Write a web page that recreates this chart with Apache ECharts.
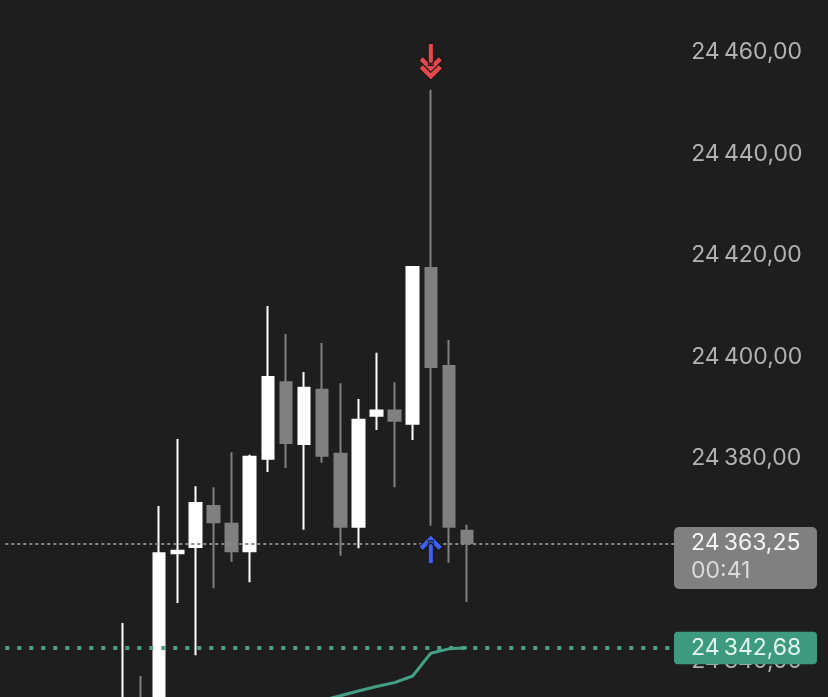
<!DOCTYPE html>
<html>
<head>
<meta charset="utf-8">
<script src="https://cdn.jsdelivr.net/npm/echarts@6/dist/echarts.min.js"></script>
<style>
html,body{margin:0;padding:0;background:#1e1e1e;}
#chart{width:828px;height:697px;}
</style>
</head>
<body>
<div id="chart"></div>
<script>
// ---- data ----
const categories = ['09:54','09:55','09:56','09:57','09:58','09:59',
  '10:00','10:01','10:02','10:03','10:04','10:05','10:06','10:07','10:08','10:09',
  '10:10','10:11','10:12','10:13','10:14','10:15','10:16','10:17','10:18','10:19',
  '10:20','10:21','10:22','10:23','10:24','10:25','10:26','10:27','10:28','10:29','10:30'];
const firstCandle = 6;
const opens  = [24322.0,24330.5,24326.0,24361.3,24362.5,24370.6,24367.1,24361.7,24379.9,24395.0,
                24382.8,24393.5,24380.9,24366.5,24388.4,24389.4,24386.8,24417.5,24398.2,24365.7];
const closes = [24330.5,24326.0,24361.3,24361.8,24371.2,24367.4,24361.7,24380.3,24396.0,24383.0,
                24393.9,24380.5,24366.5,24387.6,24389.4,24387.4,24417.7,24398.0,24366.5,24363.25];
const lows   = [24318.0,24321.0,24324.0,24351.5,24341.2,24354.4,24359.6,24355.6,24377.3,24378.1,
                24365.9,24379.1,24360.8,24362.3,24385.6,24374.3,24383.6,24366.7,24359.4,24351.7];
const highs  = [24347.55,24337.1,24370.6,24383.8,24374.5,24374.3,24381.2,24380.7,24410.0,24404.5,
                24397.0,24402.7,24394.8,24391.7,24400.8,24395.0,24417.9,24452.6,24403.3,24366.9];
const avgLine = ['-','-','-','-','-','-','-','-',24329.8,24330.6,
                 24331.4,24332.3,24333.2,24334.15,24335.05,24335.8,24337.1,24341.6,24342.45,24342.68];
const sellSignals = [17];
const buySignals = [17];
const lastPrice = 24363.25;
const avgLast = 24342.68;
const countdown = '00:41';
const yTicks = {min: 24320, max: 24480, step: 20};

// ---- helpers ----
function fmt(v){
  const parts = Number(v).toFixed(2).split('.');
  return parts[0].replace(/\B(?=(\d{3})+(?!\d))/g, '\u2009') + ',' + parts[1];
}
const candleData = categories.map((c, i) => {
  const k = i - firstCandle;
  return (k >= 0 && k < opens.length) ? [opens[k], closes[k], lows[k], highs[k]] : ['-','-','-','-'];
});
const lineData = categories.map((c, i) => {
  const k = i - firstCandle;
  return (k >= 0 && k < avgLine.length) ? avgLine[k] : '-';
});

const FONT = 'Inter, "Liberation Sans", sans-serif';
const downArrow = 'path://M9.5,0L14.5,0L14.5,22L9.5,22Z M12,29L0,17L4,13L12,21L20,13L24,17Z M12,37L0,25L4,21L12,29L20,21L24,25Z';
const upArrow = 'path://M12,0L24,12L20,16L12,8L4,16L0,12Z M9.5,6L14.5,6L14.5,29L9.5,29Z';

const chart = echarts.init(document.getElementById('chart'), null, {renderer: 'canvas'});
chart.setOption({
  backgroundColor: '#1e1e1e',
  animation: false,
  grid: {left: 5.3, right: 152.8, top: -49.2, bottom: -65.8, containLabel: false, outerBoundsMode: 'none'},
  xAxis: {type: 'category', data: categories, show: false, boundaryGap: true},
  yAxis: {
    type: 'value', position: 'right', min: yTicks.min, max: yTicks.max, interval: yTicks.step,
    splitLine: {show: false}, axisLine: {show: false}, axisTick: {show: false},
    axisLabel: {color: '#b2b2b2', fontSize: 23, fontFamily: FONT, margin: 16, formatter: fmt}
  },
  series: [
    {
      type: 'candlestick', data: candleData, barWidth: 12,
      itemStyle: {color: '#ffffff', color0: '#808080', borderColor: '#ffffff', borderColor0: '#808080', borderWidth: 2},
      markLine: {
        silent: true, symbol: ['none','none'], label: {show: false}, z: 5,
        lineStyle: {color: '#888888', width: 2, type: [3,3]},
        data: [{yAxis: lastPrice}]
      }
    },
    {
      type: 'line', data: lineData, showSymbol: false, symbol: 'none',
      lineStyle: {color: '#44a083', width: 3}, z: 3,
      markLine: {
        silent: true, symbol: ['none','none'], label: {show: false}, z: 5,
        lineStyle: {color: '#4ca082', width: 4, type: [4,8]},
        data: [{yAxis: avgLast}]
      }
    },
    {
      type: 'scatter', z: 10, silent: true,
      data: sellSignals.map(k => [k + firstCandle, highs[k]]),
      symbol: downArrow, symbolSize: [24, 37], symbolOffset: [0, -28],
      itemStyle: {color: '#e2484d', borderColor: '#151515', borderWidth: 1, opacity: 1}
    },
    {
      type: 'scatter', z: 10, silent: true,
      data: buySignals.map(k => [k + firstCandle, lows[k]]),
      symbol: upArrow, symbolSize: [24, 29], symbolOffset: [0, 23.5],
      itemStyle: {color: '#3f5ef2', borderColor: '#151515', borderWidth: 1, opacity: 1}
    }
  ]
});

const yP = chart.convertToPixel({yAxisIndex: 0}, lastPrice);
const yA = chart.convertToPixel({yAxisIndex: 0}, avgLast);
chart.setOption({
  graphic: [
    {type: 'rect', z: 100, shape: {x: 674, y: yP - 16.3, width: 143, height: 62, r: 5}, style: {fill: '#808080'}},
    {type: 'text', z: 101, x: 691, y: yP, style: {text: fmt(lastPrice), fill: '#f4f4f4', font: '23px ' + FONT, textVerticalAlign: 'middle', verticalAlign: 'middle'}},
    {type: 'text', z: 101, x: 691, y: yP + 28, style: {text: countdown, fill: '#dadada', font: '23px ' + FONT, textVerticalAlign: 'middle', verticalAlign: 'middle'}},
    {type: 'rect', z: 100, shape: {x: 674, y: yA - 16, width: 143, height: 32.6, r: 4}, style: {fill: '#3e9a7e'}},
    {type: 'text', z: 101, x: 691, y: yA, style: {text: fmt(avgLast), fill: '#e4f6ef', font: '23px ' + FONT, textVerticalAlign: 'middle', verticalAlign: 'middle'}}
  ]
});
</script>
</body>
</html>
